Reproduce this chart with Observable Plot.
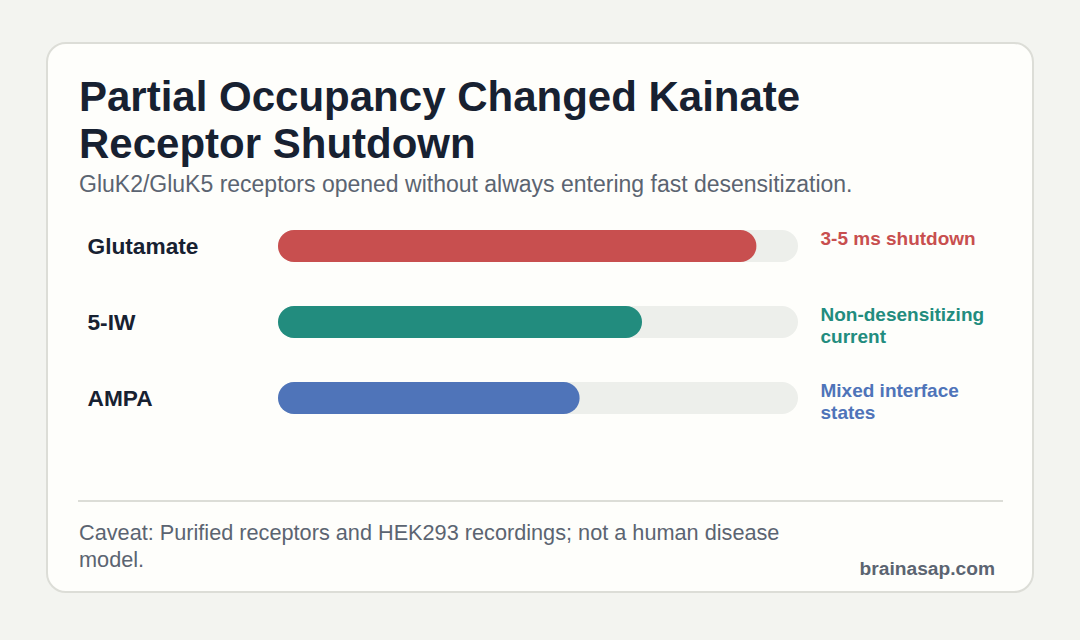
<!DOCTYPE html>
<html>
<head>
<meta charset="utf-8">
<script src="https://cdn.jsdelivr.net/npm/d3@7"></script>
<script src="https://cdn.jsdelivr.net/npm/@observablehq/plot@0.6"></script>
<style>
  html, body { margin: 0; padding: 0; }
  body {
    width: 1080px; height: 640px; position: relative; overflow: hidden;
    background: #f3f4f0;
    font-family: "Liberation Sans", Arial, Helvetica, sans-serif;
  }
  .card {
    position: absolute; left: 46px; top: 42px; width: 988px; height: 551px;
    box-sizing: border-box; border: 2px solid #dcddd7; border-radius: 20px;
    background: #fefefb;
  }
  .title {
    position: absolute; left: 79px; top: 74px; width: 800px; margin: 0;
    font-size: 42px; font-weight: 700; line-height: 46.6px; color: #172131;
  }
  .subtitle {
    position: absolute; left: 79px; top: 170.5px; margin: 0; white-space: nowrap;
    font-size: 23px; line-height: 27px; color: #5b6471;
  }
  #chart { position: absolute; left: 0; top: 200px; }
  .rule {
    position: absolute; left: 78px; top: 499.5px; width: 925px; height: 2px;
    background: #dcddd7;
  }
  .caveat {
    position: absolute; left: 79px; top: 520px; width: 730px; margin: 0;
    font-size: 21.7px; line-height: 26.6px; color: #5b6471;
  }
  .source {
    position: absolute; right: 85px; top: 558.3px; margin: 0;
    font-size: 19.2px; font-weight: 700; line-height: 22px; color: #5b6471;
  }
</style>
</head>
<body>
<div class="card"></div>
<h1 class="title">Partial Occupancy Changed Kainate Receptor Shutdown</h1>
<p class="subtitle">GluK2/GluK5 receptors opened without always entering fast desensitization.</p>
<div id="chart"></div>
<div class="rule"></div>
<p class="caveat">Caveat: Purified receptors and HEK293 recordings; not a human disease model.</p>
<p class="source">brainasap.com</p>
<script>
// Ligands, relative response strength (share of the full track) and outcome notes
const ligands = ["Glutamate", "5-IW", "AMPA"];
const strength = [92, 70, 58];
const outcomes = ["3-5 ms shutdown", "Non-desensitizing current", "Mixed interface states"];
const trackMax = 100;

const rows = ligands.map((name, i) => ({name, value: strength[i], note: outcomes[i]}));

const font = "Liberation Sans, Arial, Helvetica, sans-serif";

const chart = Plot.plot({
  width: 1080,
  height: 240,
  marginLeft: 278,
  marginRight: 282,
  marginTop: 0,
  marginBottom: 0,
  style: {background: "transparent", fontFamily: font, overflow: "visible"},
  x: {domain: [0, trackMax], axis: null},
  y: {domain: ligands, range: [29.5, 213.5], paddingInner: 0.579, paddingOuter: 0, axis: null},
  color: {domain: ligands, range: ["#c84f4f", "#228c7e", "#4f74b9"]},
  marks: [
    // grey track behind each bar
    Plot.barX(rows, {y: "name", x: () => trackMax, fill: "#edefeb", rx: 16}),
    // filled portion
    Plot.barX(rows, {y: "name", x: "value", fill: "name", rx: 16}),
    // ligand names on the left
    Plot.text(rows, {
      y: "name", text: "name", frameAnchor: "left", textAnchor: "start", dx: -191,
      fontSize: 22.7, fontWeight: 700, fill: "#172131", fontFamily: font
    }),
    // outcome notes on the right
    Plot.text(rows, {
      y: "name", text: "note", frameAnchor: "right", textAnchor: "start", dx: 22, dy: -16.7,
      lineAnchor: "top", lineWidth: 9, lineHeight: 1.14,
      fontSize: 19, fontWeight: 700, fill: "name", fontFamily: font
    })
  ]
});

document.getElementById("chart").appendChild(chart);
</script>
</body>
</html>
